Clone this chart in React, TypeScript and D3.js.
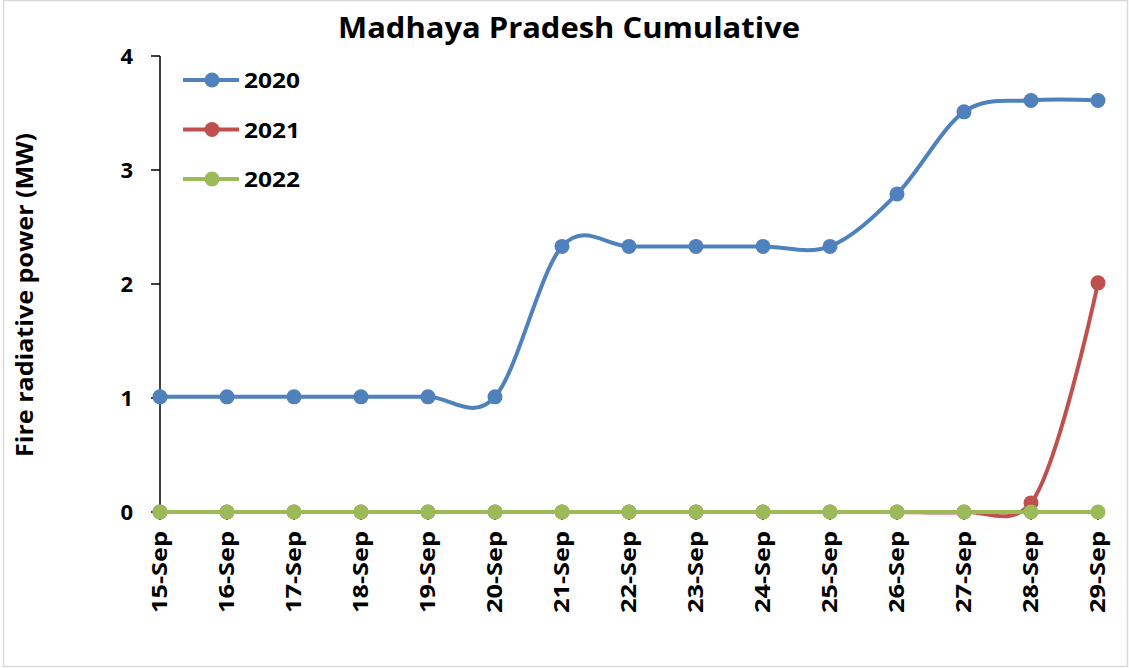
import React from "react";
import * as d3 from "d3";

const categories = ["15-Sep","16-Sep","17-Sep","18-Sep","19-Sep","20-Sep","21-Sep","22-Sep","23-Sep","24-Sep","25-Sep","26-Sep","27-Sep","28-Sep","29-Sep"];
const series2020 = [1.01,1.01,1.01,1.01,1.01,1.01,2.33,2.33,2.33,2.33,2.33,2.79,3.51,3.61,3.61];
const series2021 = [0,0,0,0,0,0,0,0,0,0,0,0,0,0.08,2.01];
const series2022 = [0,0,0,0,0,0,0,0,0,0,0,0,0,0,0];
const yTicks = [0,1,2,3,4];
const seriesNames = ["2020","2021","2022"];
const seriesColors = ["#4F81BD","#C0504D","#9BBB59"];

const W = 1129, H = 668;
const FONT = "'Open Sans', 'Liberation Sans', Arial, sans-serif";

export default function App() {
  const x = d3.scalePoint<string>().domain(categories).range([160, 1098]);
  const y = d3.scaleLinear().domain([0, 4]).range([512, 56]);
  const allSeries = [series2020, series2021, series2022];
  const curves = [d3.curveCardinal.tension(0), d3.curveCatmullRom.alpha(0.25), d3.curveCardinal.tension(0)];
  const makeLine = (si: number) => d3.line<number>()
    .x((_, i) => x(categories[i]) as number)
    .y((d) => y(d))
    .curve(curves[si]);

  return (
    <svg width={W} height={H} style={{ position: "absolute", left: 0, top: 0, background: "#fff" }}>
      <rect x={3.5} y={0.5} width={1124} height={666} fill="#fff" stroke="#d9d9d9" strokeWidth={1.5} />
      <text x={569} y={38} textAnchor="middle" fontFamily={FONT} fontWeight="bold" fontSize={28}
        textLength={462} lengthAdjust="spacingAndGlyphs">Madhaya Pradesh Cumulative</text>
      <text transform="translate(33,295) rotate(-90)" textAnchor="middle" fontFamily={FONT} fontWeight="bold"
        fontSize={24} textLength={324} lengthAdjust="spacingAndGlyphs">Fire radiative power (MW)</text>

      {/* y axis */}
      <line x1={160} x2={160} y1={y(4)} y2={y(0) + 8} stroke="#000" strokeWidth={1.5} />
      {yTicks.map((t) => (
        <g key={t}>
          <line x1={151} x2={160} y1={y(t)} y2={y(t)} stroke="#000" strokeWidth={1.5} />
          <text x={133} y={y(t) + 8} textAnchor="end" fontFamily={FONT} fontWeight="bold" fontSize={22}>{t}</text>
        </g>
      ))}
      {/* x axis */}
      <line x1={160} x2={1098} y1={y(0)} y2={y(0)} stroke="#000" strokeWidth={1.5} />
      {categories.map((c) => (
        <g key={c}>
          <line x1={x(c)} x2={x(c)} y1={y(0)} y2={y(0) + 8} stroke="#000" strokeWidth={1.5} />
          <text transform={`translate(${(x(c) as number) + 7},531) rotate(-90)`} textAnchor="end"
            fontFamily={FONT} fontWeight="bold" fontSize={22} textLength={82} lengthAdjust="spacingAndGlyphs">{c}</text>
        </g>
      ))}

      {allSeries.map((s, si) => (
        <g key={si}>
          <path d={makeLine(si)(s) || ""} fill="none" stroke={seriesColors[si]} strokeWidth={4} />
          {s.map((v, i) => (
            <circle key={i} cx={x(categories[i])} cy={y(v)} r={7.5} fill={seriesColors[si]} />
          ))}
        </g>
      ))}

      {/* legend */}
      {seriesNames.map((n, i) => {
        const ly = 80 + i * 49.5;
        return (
          <g key={n}>
            <line x1={183} x2={239} y1={ly} y2={ly} stroke={seriesColors[i]} strokeWidth={4} />
            <circle cx={212} cy={ly} r={7.5} fill={seriesColors[i]} />
            <text x={244} y={ly + 8} fontFamily={FONT} fontWeight="bold" fontSize={22}
              textLength={56} lengthAdjust="spacingAndGlyphs">{n}</text>
          </g>
        );
      })}
    </svg>
  );
}
